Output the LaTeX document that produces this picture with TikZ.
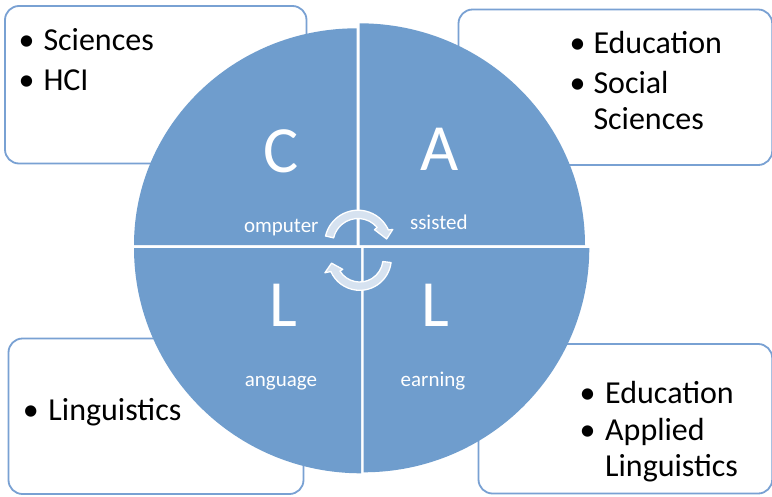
\documentclass[tikz,border=0pt]{standalone}
\usepackage{fontspec}
\setmainfont{Carlito}
\usetikzlibrary{calc}
\definecolor{qfill}{RGB}{111,157,205}
\definecolor{boxline}{RGB}{121,161,211}
\definecolor{arrfill}{RGB}{214,226,240}
\begin{document}
\begin{tikzpicture}[x=1pt,y=-1pt,
  box/.style={draw=boxline,line width=1.8pt,fill=white,rounded corners=14pt},
  quad/.style={fill=qfill},
  item/.style={anchor=base west,inner sep=0,text=black,font=\fontsize{32}{38}\selectfont},
  bul/.style={anchor=base,inner sep=0,text=black,font=\fontsize{32}{38}\selectfont},
  big/.style={anchor=base,inner sep=0,text=white,font=\fontsize{66}{70}\selectfont},
  small/.style={anchor=base,inner sep=0,text=white,font=\fontsize{21}{24}\selectfont},
  cyc/.style={fill=arrfill,draw=white,line width=1.3pt,line join=round}]
\useasboundingbox (0,0) rectangle (772,496);
\fill[white] (0,0) rectangle (772,496);

% corner boxes
\draw[box] (5,6) rectangle (306.5,163.5);
\draw[box] (458.5,9.5) rectangle (772.2,165);
\draw[box] (8.5,338.5) rectangle (303.5,494);
\draw[box] (478.5,344) rectangle (772.2,493.5);

% box texts
\node[bul] (b1) at (26.7,50) {\textbullet};
\node[item] (t1) at (43.3,50) {Sciences};
\node[bul] (b2) at (26.7,90.7) {\textbullet};
\node[item] (t2) at (43.3,90.7) {HCI};

\node[bul] (b3) at (577.5,53.3) {\textbullet};
\node[item] (t3) at (593.3,53.3) {Education};
\node[bul] (b4) at (577.5,93.3) {\textbullet};
\node[item] (t4) at (593.3,93.3) {Social};
\node[item] (t5) at (593.3,129.3) {Sciences};

\node[bul] (b5) at (30.8,420) {\textbullet};
\node[item] (t6) at (48.3,420) {Linguistics};

\node[bul] (b6) at (587.5,403.3) {\textbullet};
\node[item] (t7) at (605,403.3) {Education};
\node[bul] (b7) at (587.5,440) {\textbullet};
\node[item] (t8) at (605,440) {Applied};
\node[item] (t9) at (605,476) {Linguistics};

% quadrants
\fill[quad] (356.5,245) -- (134,245) arc[start angle=180,end angle=270,x radius=222.5,y radius=216.7] -- cycle;
\fill[quad] (359.5,245) -- (359.5,23.3) arc[start angle=270,end angle=360,x radius=225.5,y radius=221.7] -- cycle;
\fill[quad] (361,248) -- (361,473.3) arc[start angle=90,end angle=180,x radius=227,y radius=225.3] -- cycle;
\fill[quad] (363.5,248) -- (589.3,248) arc[start angle=0,end angle=90,x radius=225.8,y radius=224.3] -- cycle;

% letters
\node[big] (lc) at (281,172) {C};
\node[big] (la) at (440,170) {A};
\node[big] (ll1) at (283,326.7) {L};
\node[big] (ll2) at (435,326.7) {L};

\node[small] (wc) at (281.3,232.5) {omputer};
\node[small] (wa) at (438.8,229) {ssisted};
\node[small] (wl1) at (281,386) {anguage};
\node[small] (wl2) at (433,386) {earning};

% cycle arrows
\coordinate (ct) at (358,243.5);
\coordinate (cb) at (359.7,258.7);
\draw[cyc] ($(ct)+(-167:33.3)$) arc[start angle=-167,end angle=-24,radius=33.3]
  -- ($(ct)+(-22:37.5)$) -- ($(ct)+(-9:29)$) -- ($(ct)+(-40:21.5)$)
  -- ($(ct)+(-40:25)$) arc[start angle=-40,end angle=-167,radius=25] -- cycle;
\draw[cyc] ($(cb)+(7:31.6)$) arc[start angle=7,end angle=156,radius=31.6]
  -- ($(cb)+(158:37.5)$) -- ($(cb)+(171:28.5)$) -- ($(cb)+(148:20)$)
  -- ($(cb)+(148:23.3)$) arc[start angle=148,end angle=7,radius=23.3] -- cycle;
\end{tikzpicture}
\end{document}
